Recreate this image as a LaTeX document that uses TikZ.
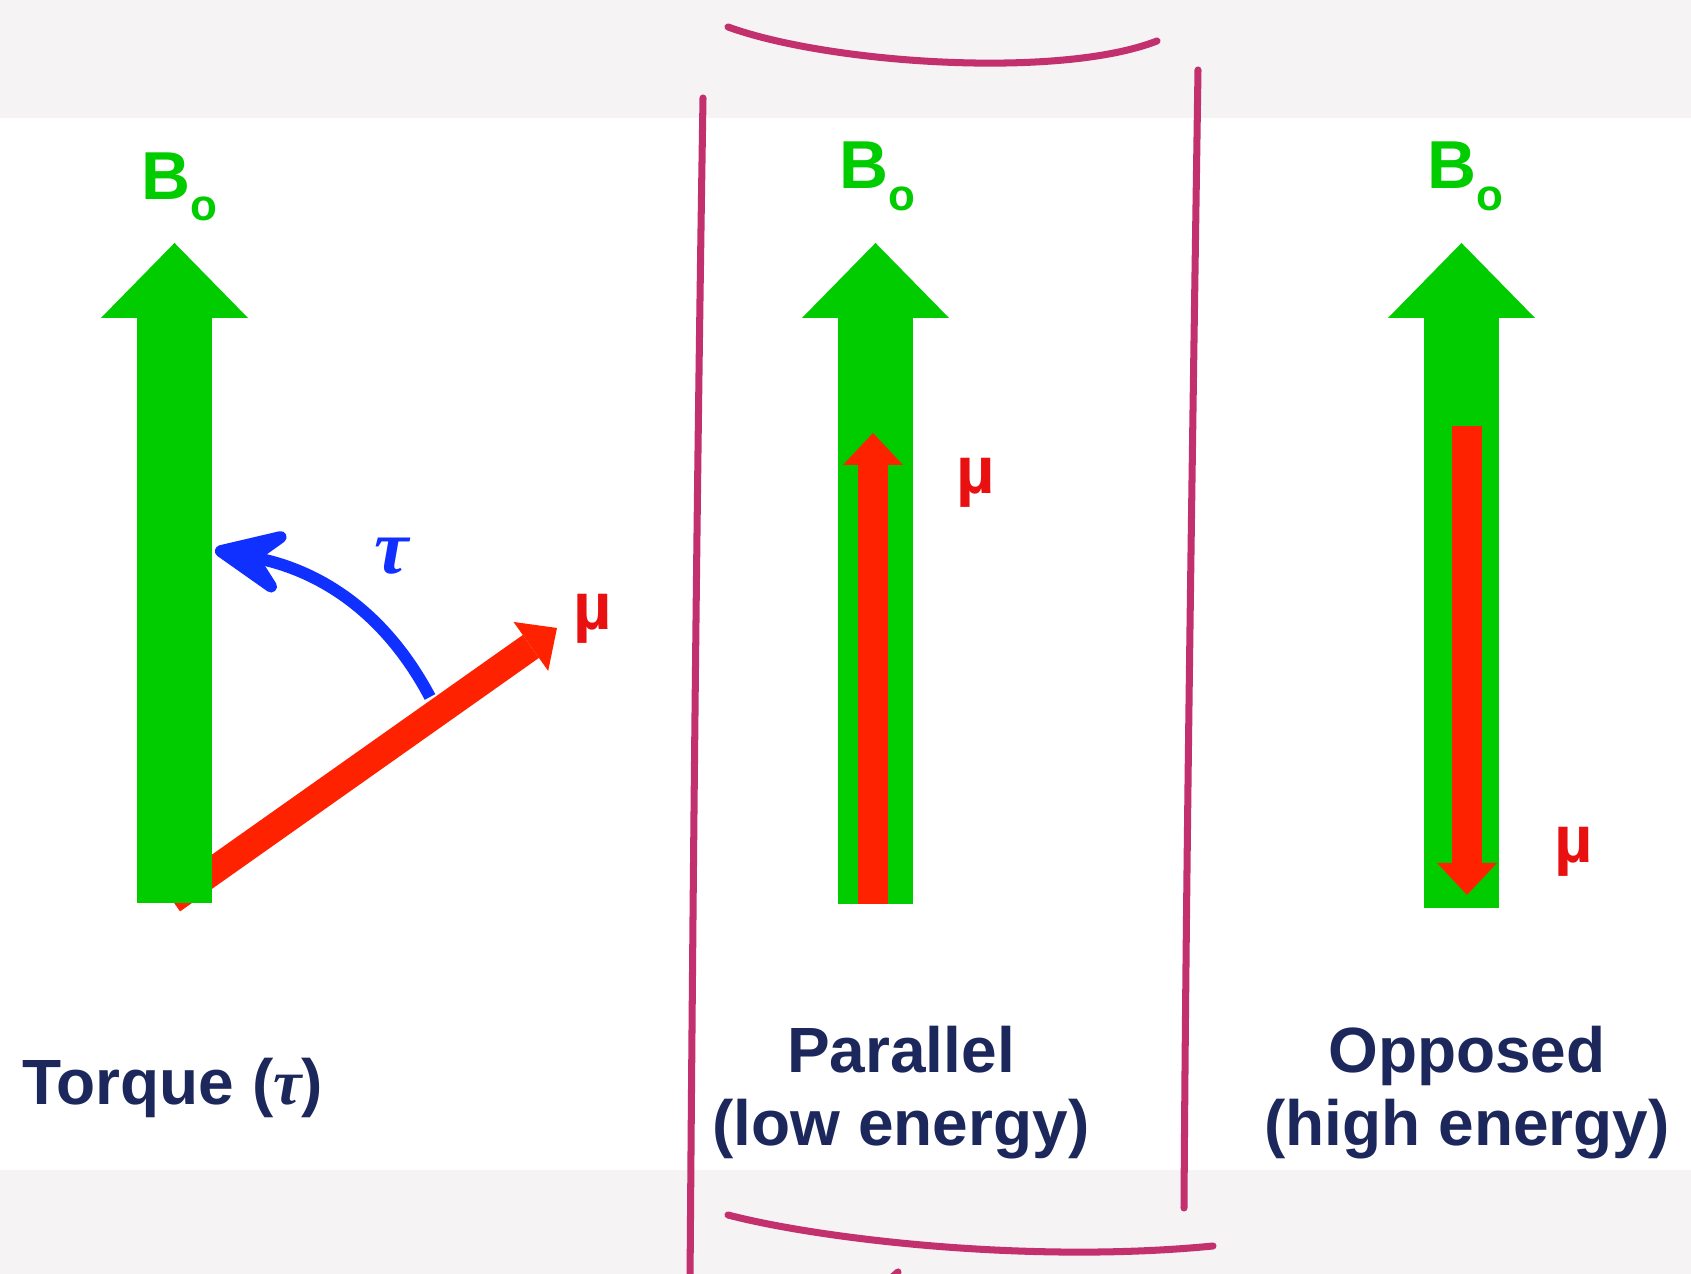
\documentclass[tikz,border=0pt]{standalone}
\usepackage{fontspec}
\setmainfont{Liberation Sans}
\newfontfamily\taufont{Liberation Serif}
\usepackage{tikz}
\usetikzlibrary{arrows.meta}
\definecolor{fieldgreen}{RGB}{0,204,0}
\definecolor{momentred}{RGB}{255,34,0}
\definecolor{mulabel}{RGB}{232,16,16}
\definecolor{torqueblue}{RGB}{16,48,255}
\definecolor{captionnavy}{RGB}{28,40,92}
\definecolor{penmagenta}{RGB}{194,48,110}
\definecolor{bandgray}{RGB}{246,243,245}
\newcommand{\Bnought}{B\raisebox{-6pt}{\fontsize{12.5}{12.5}\selectfont o}}
\newcommand{\tauit}{{\taufont\itshape τ}}
\tikzset{
  fieldarr/.style  = {line width=7.5mm,fieldgreen,-{Triangle[length=7.5mm,width=14.7mm,line width=0pt]}},
  momarr/.style    = {momentred,-{Triangle[length=3.2mm,width=6mm,line width=0pt]}},
  torquearr/.style = {torqueblue,line width=3.4pt,-{Stealth[length=9.5mm,width=8.5mm,inset=4mm,round]}},
  penline/.style   = {penmagenta,line width=2pt,line cap=round},
  fieldlbl/.style  = {fieldgreen,font=\fontsize{19.3}{20}\selectfont\bfseries,inner sep=0pt,anchor=base west},
  mulbl/.style     = {mulabel,font=\fontsize{19}{20}\selectfont\bfseries,inner sep=0pt,anchor=base},
  captiontext/.style = {captionnavy,font=\fontsize{18.2}{20.8}\selectfont\bfseries,inner sep=0pt,align=center,anchor=base}
}

\begin{document}
\begin{tikzpicture}
  \fill[bandgray] (0,0) rectangle (16.91,12.74);
  \fill[white] (0,1.04) rectangle (16.91,11.56);
  \useasboundingbox (0,0) rectangle (16.91,12.74);
  % torque
  \coordinate (mubase1) at (1.72,3.74);
  \coordinate (mutip1)  at (5.57,6.46);
  \coordinate (arcfrom) at (4.30,5.77);
  \coordinate (arcto)   at (2.15,7.24);
  \coordinate (fbot1) at (1.745,3.71);
  \coordinate (ftop1) at (1.745,10.31);
  \draw[momarr,line width=2.8mm] (mubase1) -- (mutip1);
  \draw[fieldarr] (fbot1) -- (ftop1);
  \draw[torquearr] (arcfrom) to[out=118,in=-11] (arcto);
  \node[fieldlbl] (b1) at (1.41,10.745) {\Bnought};
  \node[mulbl] (mu1) at (5.93,6.44) {µ};
  \node[torqueblue,font=\fontsize{22}{22}\selectfont\bfseries,inner sep=0pt] (tau) at (3.92,7.18) {\tauit};
  \node[captiontext,anchor=base west] (torque) at (0.216,1.69) {Torque (\tauit)};
  % parallel
  \coordinate (fbot2) at (8.755,3.70);
  \coordinate (ftop2) at (8.755,10.31);
  \coordinate (mubase2) at (8.73,3.70);
  \coordinate (mutip2)  at (8.73,8.41);
  \draw[fieldarr] (fbot2) -- (ftop2);
  \draw[momarr,line width=3mm] (mubase2) -- (mutip2);
  \node[fieldlbl] (b2) at (8.39,10.85) {\Bnought};
  \node[mulbl] (mu2) at (9.76,7.80) {µ};
  \node[captiontext] (par) at (9.01,1.28) {Parallel\\(low energy)};
  % opposed
  \coordinate (fbot3) at (14.615,3.66);
  \coordinate (ftop3) at (14.615,10.31);
  \coordinate (mubase3) at (14.67,8.48);
  \coordinate (mutip3)  at (14.67,3.79);
  \draw[fieldarr] (fbot3) -- (ftop3);
  \draw[momarr,line width=3mm] (mubase3) -- (mutip3);
  \node[fieldlbl] (b3) at (14.27,10.85) {\Bnought};
  \node[mulbl] (mu3) at (15.74,4.11) {µ};
  \node[captiontext] (opp) at (14.67,1.28) {Opposed\\(high energy)};
  % pen marks
  \draw[penline] (7.28,12.47) .. controls (8.3,12.1) and (10.6,11.95) .. (11.57,12.33);
  \draw[penline] (7.03,11.76) .. controls (6.97,8) and (6.93,4) .. (6.90,-0.1);
  \draw[penline] (11.98,12.04) .. controls (11.92,8) and (11.86,4) .. (11.84,0.66);
  \draw[penline] (7.28,0.59) .. controls (8.2,0.35) and (10.3,0.1) .. (12.13,0.28);
  \draw[penline] (8.90,-0.05) -- (8.98,0.02);
\end{tikzpicture}
\end{document}
